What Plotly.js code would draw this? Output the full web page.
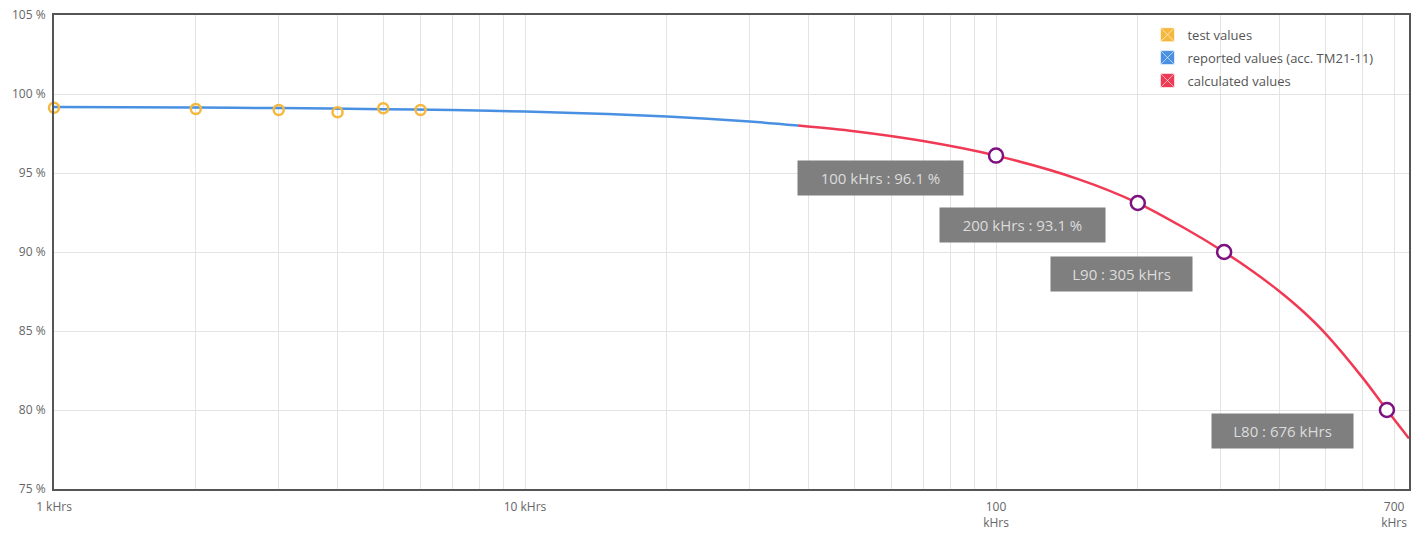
<!DOCTYPE html>
<html>
<head>
<meta charset="utf-8">
<script src="https://cdn.plot.ly/plotly-3.0.1.min.js"></script>
<style>html,body{margin:0;padding:0;background:#fff;}#chart{width:1421px;height:535px;}</style>
</head>
<body>
<div id="chart"></div>
<script>
// ---- data (kHrs, % luminous flux) ----
const testHours = [1, 2, 3, 4, 5, 6];
const testValues = [99.13, 99.05, 98.99, 98.84, 99.1, 98.99];

const reportedHours = [1, 2, 3, 5, 7, 10, 15, 20, 30, 38];
const reportedValues = [99.17, 99.14, 99.11, 99.04, 98.98, 98.89, 98.73, 98.58, 98.26, 98.0];

const calculatedHours = [38, 50, 70, 100, 150, 200, 250, 305, 350, 400, 450, 500, 600, 676, 753];
const calculatedValues = [98.0, 97.64, 97.02, 96.1, 94.6, 93.1, 91.55, 90.0, 88.8, 87.5, 86.2, 84.85, 82.05, 80.0, 78.2];

const keyHours = [100, 200, 305, 676];
const keyValues = [96.1, 93.1, 90.0, 80.0];
const keyLabels = ['100 kHrs : 96.1 %', '200 kHrs : 93.1 %', 'L90 : 305 kHrs', 'L80 : 676 kHrs'];

const legendNames = ['test values', 'reported values (acc. TM21-11)', 'calculated values'];

const gridHours = [1,2,3,4,5,6,7,8,9,10,20,30,40,50,60,70,80,90,100,200,300,400,500,600,700];
const labelledHours = [1, 10, 100, 700];
const labelTexts = ['1 kHrs', '10 kHrs', '100<br>kHrs', '700<br>kHrs'];

const yTicks = [75, 80, 85, 90, 95, 100, 105];

// ---- styles ----
const cOrange = '#f5b83d', cBlue = '#4a90e2', cRed = '#f03a55', cPurple = '#7d1180';
const fontFam = '"Open Sans", "Noto Sans", sans-serif';

const tickText = gridHours.map(h => {
  const i = labelledHours.indexOf(h);
  return i >= 0 ? labelTexts[i] : '';
});

const traces = [
  {x: reportedHours, y: reportedValues, mode: 'lines', line: {color: cBlue, width: 2.5, shape: 'spline', smoothing: 0.8}, showlegend: false},
  {x: calculatedHours, y: calculatedValues, mode: 'lines', line: {color: cRed, width: 2.5, shape: 'spline', smoothing: 0.8}, showlegend: false},
  {x: testHours, y: testValues, mode: 'markers', cliponaxis: false, marker: {symbol: 'circle-open', size: 10, color: cOrange, line: {width: 2.5}}, showlegend: false},
  {x: keyHours, y: keyValues, mode: 'markers', cliponaxis: false, marker: {symbol: 'circle', size: 14, color: '#ffffff', line: {color: cPurple, width: 2.5}}, showlegend: false},
];
[cOrange, cBlue, cRed].forEach((c, i) => {
  traces.push({x: [null], y: [null], mode: 'markers', name: legendNames[i], legendgroup: 'g' + i,
    marker: {symbol: 'square-x', size: 14, color: c, line: {color: 'rgba(255,255,255,0.6)', width: 1}}});
});

// annotation offsets (px) from the key points
const boxOffsets = [[-116, 22], [-115, 22], [-103, 22], [-104, 21]];
const annotations = keyHours.map((h, i) => ({
  x: Math.log10(h), y: keyValues[i], xref: 'x', yref: 'y',
  text: keyLabels[i], showarrow: true, arrowcolor: 'rgba(0,0,0,0)', arrowwidth: 0.1,
  ax: boxOffsets[i][0], ay: boxOffsets[i][1],
  bgcolor: '#7f7f7f', borderpad: 8, width: i < 2 ? 149 : 125, height: 18,
  font: {family: fontFam, size: 15, color: '#dcdcdc'}
}));

const layout = {
  width: 1421, height: 535,
  margin: {l: 54, r: 12, t: 15, b: 46},
  paper_bgcolor: '#ffffff', plot_bgcolor: '#ffffff',
  font: {family: fontFam, size: 12, color: '#666666'},
  xaxis: {
    type: 'log', range: [0, Math.log10(753)],
    tickmode: 'array', tickvals: gridHours, ticktext: tickText,
    showgrid: true, gridcolor: '#e3e3e3', gridwidth: 1,
    showline: true, linecolor: '#555555', linewidth: 2, mirror: true,
    ticks: '', zeroline: false, ticklabelstandoff: 6,
    tickfont: {family: fontFam, size: 12, color: '#666666'}
  },
  yaxis: {
    range: [75, 105], tickmode: 'array', tickvals: yTicks,
    ticktext: yTicks.map(v => v + ' %'),
    showgrid: true, gridcolor: '#e3e3e3', gridwidth: 1,
    showline: true, linecolor: '#555555', linewidth: 2, mirror: true,
    ticks: '', zeroline: false, ticklabelstandoff: 4,
    tickfont: {family: fontFam, size: 12, color: '#666666'}
  },
  legend: {
    x: 0.807, y: 0.99, xanchor: 'left', yanchor: 'top',
    bgcolor: 'rgba(255,255,255,0)', borderwidth: 0,
    font: {family: fontFam, size: 13, color: '#555555'},
    itemwidth: 30, tracegroupgap: 3
  },
  annotations: annotations,
  showlegend: true
};

Plotly.newPlot('chart', traces, layout, {staticPlot: true, displayModeBar: false});
</script>
</body>
</html>
